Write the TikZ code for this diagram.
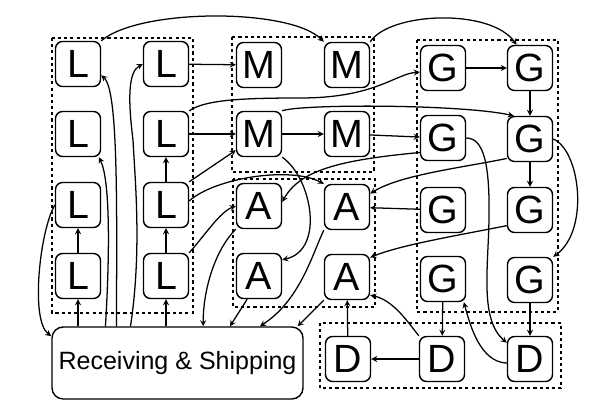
\documentclass[tikz,border=0pt]{standalone}
\usepackage{fontspec}
\setmainfont{Liberation Sans}
\usepackage{tikz}

\begin{document}
\begin{tikzpicture}[x=0.025cm,y=-0.025cm,
	unit/.style={rectangle, rounded corners=5pt, draw, fill=white, line width=1pt, minimum size=1.125cm, inner sep=0pt, font=\fontsize{28}{30}\selectfont},
	zone/.style={draw, line width=1pt, dash pattern=on 2.2pt off 2.2pt},
	flow/.style={-stealth, line width=0.9pt}]
		\useasboundingbox (0,0) rectangle (600,408);
		
		\draw[zone] (52,38) rectangle (193,313);
		\draw[zone] (232,37) rectangle (374,172);
		\draw[zone] (233,179) rectangle (375,307);
		\draw[zone] (417,40) rectangle (558,312);
		\draw[zone] (320,323) rectangle (561,388);
		
		\node[unit] (L11) at (78,64) {L};
		\node[unit] (L12) at (166,64) {L};
		\node[unit] (L21) at (78,134) {L};
		\node[unit] (L22) at (166,134) {L};
		\node[unit] (L31) at (78,205) {L};
		\node[unit] (L32) at (166,205) {L};
		\node[unit] (L41) at (78,276) {L};
		\node[unit] (L42) at (166,276) {L};
		
		\node[unit] (M11) at (259,65) {M};
		\node[unit] (M12) at (347,65) {M};
		\node[unit] (M21) at (259,134) {M};
		\node[unit] (M22) at (347,134) {M};
		
		\node[unit] (A11) at (259,206) {A};
		\node[unit] (A12) at (347,207) {A};
		\node[unit] (A21) at (259,276) {A};
		\node[unit] (A22) at (347,277) {A};
		
		\node[unit] (G11) at (443,68) {G};
		\node[unit] (G12) at (530,68) {G};
		\node[unit] (G21) at (443,138) {G};
		\node[unit] (G22) at (530,139) {G};
		\node[unit] (G31) at (443,210) {G};
		\node[unit] (G32) at (530,210) {G};
		\node[unit] (G41) at (443,279) {G};
		\node[unit] (G42) at (530,280) {G};
		
		\node[unit] (D1) at (348,359) {D};
		\node[unit] (D2) at (442,359) {D};
		\node[unit] (D3) at (530,359) {D};
		
		\node[unit, minimum width=6.275cm, minimum height=1.8cm, rounded corners=8pt, font=\fontsize{17.8}{20}\selectfont] (RS) at (177.5,363) {Receiving \& Shipping};
		
		\draw[flow] (L11.north east) .. controls (140,8) and (290,8) .. (M12.north west);
		\draw[flow] (M12.north east) .. controls (390,12) and (490,8) .. (G12.120);
		\draw[flow] (L12) -- (M11);
		\draw[flow] (G11) -- (G12);
		\draw[flow] (G12) -- (G22);
		\draw[flow] (G22) -- (G32);
		\draw[flow] (L22.north east) .. controls (205,100) and (240,98) .. (300,98) .. controls (375,98) and (395,74) .. (G11.190);
		\draw[flow] (L22) -- (M21);
		\draw[flow] (M21) -- (M22);
		\draw[flow] (M21.north east) .. controls (300,104) and (460,104) .. (G22.125);
		\draw[flow] (M22) -- (G21);
		\draw[flow] (G21.east) .. controls (484,138) and (490,165) .. (489,220) .. controls (488,270) and (480,320) .. (D3.145);
		\draw[flow] (G22.east) .. controls (580,150) and (590,230) .. (G42.north east);
		\draw[flow] (G21.212) .. controls (340,160) and (300,170) .. (A11.10);
		\draw[flow] (G22.220) .. controls (460,168) and (400,175) .. (A12.30);
		\draw[flow] (G31) -- (A12);
		\draw[flow] (G32.214) .. controls (460,235) and (400,245) .. (A22.40);
		
		\draw[flow] (D2) -- (D1);
		\draw[flow] (D1) -- (A22);
		\draw[flow] (D2.north west) .. controls (405,318) and (392,300) .. (A22.-38);
		\draw[flow] (G41) -- (D2);
		\draw[flow] (G42) -- (D3);
		\draw[flow] (D3.190) .. controls (480,362) and (470,325) .. (G41.-48);
		
		\draw[flow] (M21.south east) .. controls (312,178) and (325,250) .. (A21.35);
		\draw[flow] (L32.10) .. controls (215,178) and (290,166) .. (A12.north west);
		\draw[flow] (L32.north east) -- (M21.215);
		\draw[flow] (L42.north east) .. controls (205,235) and (220,212) .. (A11.west);
		\draw[flow] (L41) -- (L31);
		\draw[flow] (L42) -- (L32);
		\draw[flow] (L32) -- (L22);
		
		\draw[flow] (L41 |- RS.north) -- (L41);
		\draw[flow] (L42 |- RS.north) -- (L42);
		\draw[flow] (RS.149) .. controls (117,200) and (118,90) .. (L11.-26);
		\draw[flow] (RS.142) .. controls (142,250) and (135,180) .. (133,140) .. controls (128,100) and (128,72) .. (L12.west);
		\draw[flow] (RS.153) .. controls (110,250) and (110,180) .. (L21.-48);
		\draw[flow] (L31.west) .. controls (40,230) and (30,320) .. (RS.168);
		\draw[flow] (A11.south west) .. controls (215,250) and (203,290) .. (RS.55);
		\draw[flow] (A21.-117) -- (RS.35);
		\draw[flow] (A12.south west) .. controls (312,255) and (300,300) .. (RS.24);
		\draw[flow] (A22.south west) -- (RS.17);
	\end{tikzpicture}
\end{document}
